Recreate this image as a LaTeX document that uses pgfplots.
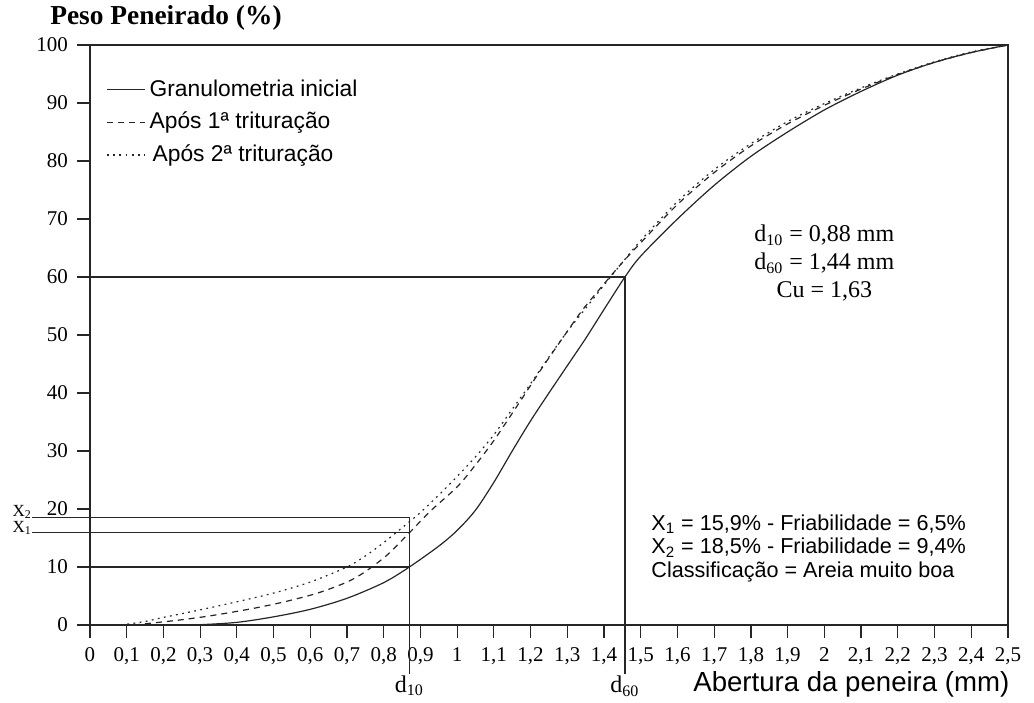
\documentclass[border=0pt]{standalone}
\usepackage{pgfplots}
\pgfplotsset{compat=1.18}
\usepackage{fontspec}
\setmainfont{Liberation Serif}
\newfontfamily\arial{Liberation Sans}

\begin{document}
\begin{tikzpicture}
\begin{axis}[
  scale only axis,
  width=459pt, height=290pt,
  xmin=0, xmax=2.5, ymin=0, ymax=100,
  clip=false,
  axis line style={line width=0.6pt, black!85},
  xtick={0,0.1,0.2,0.3,0.4,0.5,0.6,0.7,0.8,0.9,1,1.1,1.2,1.3,1.4,1.5,1.6,1.7,1.8,1.9,2,2.1,2.2,2.3,2.4,2.5},
  ytick={0,10,20,30,40,50,60,70,80,90,100},
  xtick pos=bottom, ytick pos=left,
  tick align=outside,
  major tick length=6.5pt,
  tick style={line width=0.6pt, black!85},
  /pgf/number format/fixed,
  /pgf/number format/use comma,
  /pgf/number format/assume math mode=true,
  tick label style={font=\fontsize{10.5}{12}\selectfont},
  xticklabel style={yshift=-2pt, text height=1.4ex, text depth=0.3ex},
  yticklabel style={xshift=-1pt},
  legend style={at={(0.011,0.955)}, anchor=north west, draw=none, fill=none,
    font=\arial\fontsize{11.4}{13}\selectfont, row sep=2.6pt,
    cells={anchor=west}},
  legend image code/.code={\draw[#1] (0pt,0pt) -- (16pt,0pt); \path (0pt,0pt) -- (19pt,0pt);},
]
% Granulometria inicial
\addplot[black!85, line width=0.6pt, smooth, tension=0.5] coordinates {
  (0.24,0) (0.3,0.05) (0.4,0.45) (0.5,1.4) (0.6,2.7) (0.7,4.6) (0.8,7.3)
  (0.87,10) (0.95,13.6) (1.0,16.3) (1.05,19.8) (1.1,24.6) (1.15,30.0)
  (1.2,35.2) (1.25,40) (1.3,44.7) (1.35,49.4) (1.4,54.4) (1.457,60)
  (1.5,63.6) (1.6,70) (1.7,75.8) (1.8,80.8) (1.9,85) (2.0,88.8)
  (2.1,92) (2.2,94.8) (2.3,97) (2.4,98.7) (2.5,100)
};
\addlegendentry{Granulometria inicial}
% Apos 1a trituracao
\addplot[black!85, line width=0.6pt, smooth, tension=0.5, dash pattern=on 3pt off 2.5pt] coordinates {
  (0.12,0) (0.18,0.4) (0.25,0.9) (0.33,1.6) (0.44,2.8) (0.53,4.0) (0.62,5.5)
  (0.7,7.4) (0.75,9.2) (0.81,12.1) (0.87,15.9) (0.93,19.8) (1.0,23.8)
  (1.05,27.6) (1.1,31.8) (1.17,38.4) (1.23,44.2) (1.28,48.8) (1.34,54.2)
  (1.4,58.8) (1.45,62.5) (1.5,65.9) (1.6,72.5) (1.7,78) (1.8,82.6)
  (1.9,86.4) (2.0,89.6) (2.1,92.4) (2.2,94.9) (2.3,97) (2.4,98.7) (2.5,100)
};
\addlegendentry{Após 1ª trituração}
% Apos 2a trituracao
\addplot[black!85, line width=0.6pt, smooth, tension=0.5, dash pattern=on 0.9pt off 2.2pt] coordinates {
  (0.085,0) (0.15,0.6) (0.2,1.3) (0.3,2.6) (0.4,4.0) (0.5,5.5) (0.6,7.4)
  (0.7,10) (0.75,11.9) (0.8,14.2) (0.87,17.8) (0.9,19.4) (0.95,22.4)
  (1.0,25.6) (1.05,29) (1.1,32.8) (1.15,37.2) (1.2,41.6) (1.25,46.2)
  (1.3,50.6) (1.35,54.6) (1.4,58.6) (1.45,62.5) (1.5,66.3) (1.6,73)
  (1.7,78.5) (1.8,83) (1.9,86.8) (2.0,89.9) (2.1,92.6) (2.2,95)
  (2.3,97.1) (2.4,98.8) (2.5,100)
};
\addlegendentry{\hspace{1.5pt}Após 2ª trituração}
% guide lines d10, d60, X1, X2
\addplot[black!85, line width=0.7pt, forget plot] coordinates {(0,10) (0.87,10)};
\addplot[black!85, line width=0.7pt, forget plot] coordinates {(-0.157,15.9) (0.87,15.9)};
\addplot[black!85, line width=0.7pt, forget plot] coordinates {(-0.157,18.5) (0.87,18.5) (0.87,-8.4)};
\addplot[black!85, line width=0.7pt, forget plot] coordinates {(0,60) (1.457,60) (1.457,-8.4)};

\node[anchor=base east, inner sep=0pt, font=\fontsize{8.5}{10}\selectfont] at (axis cs:-0.157,18.7) {X\textsubscript{2}};
\node[anchor=base east, inner sep=0pt, font=\fontsize{8.5}{10}\selectfont] at (axis cs:-0.157,16.0) {X\textsubscript{1}};
\node[anchor=north, inner sep=0.5pt, font=\fontsize{12}{14}\selectfont] at (axis cs:0.87,-8.5) {d\textsubscript{10}};
\node[anchor=north, inner sep=0.5pt, font=\fontsize{12}{14}\selectfont] at (axis cs:1.457,-8.6) {d\textsubscript{60}};

\node[anchor=west, inner sep=0pt, font=\bfseries\fontsize{13.7}{16}\selectfont] at (axis cs:-0.109,104.7) {Peso Peneirado (\%)};
\node[anchor=east, inner sep=0pt, font=\arial\fontsize{13.8}{16}\selectfont] at (axis cs:2.505,-10.2) {Abertura da peneira (mm)};

\node[align=center, inner sep=0pt, font=\fontsize{12}{14}\selectfont] at (axis cs:2.0,62.4)
  {d\textsubscript{10} = 0,88 mm\\ d\textsubscript{60} = 1,44 mm\\ Cu = 1,63};
\node[align=left, anchor=west, inner sep=0pt, font=\arial\fontsize{10.8}{11.8}\selectfont] at (axis cs:1.528,13.2)
  {X\textsubscript{1} = 15,9\% - Friabilidade = 6,5\%\\ X\textsubscript{2} = 18,5\% - Friabilidade = 9,4\%\\ Classificação = Areia muito boa};

\coordinate (bbsw) at (axis cs:-0.245,-13.45);
\coordinate (bbne) at (axis cs:2.571,107.76);
\end{axis}
\pgfresetboundingbox
\path (bbsw) rectangle (bbne);
\end{tikzpicture}
\end{document}
